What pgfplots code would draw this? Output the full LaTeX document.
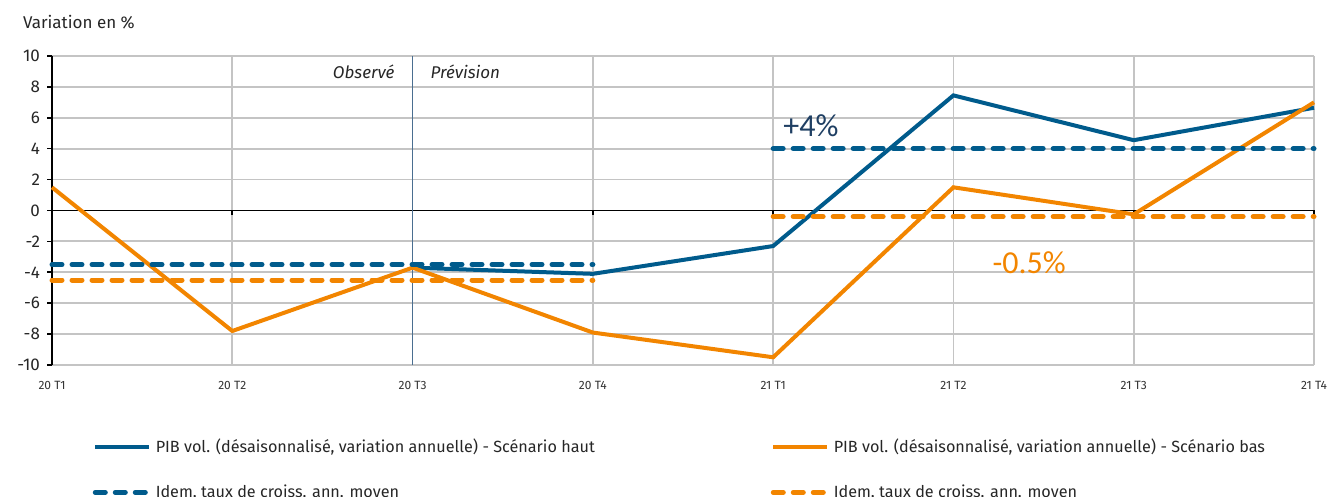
\documentclass[border=0pt]{standalone}
\usepackage{pgfplots}
\pgfplotsset{compat=1.18}
\usepackage{fontspec}
\setmainfont{Fira Sans}
\newfontfamily\calib{Carlito}

\definecolor{bleu}{HTML}{005B8C}
\definecolor{orange}{HTML}{F28500}
\definecolor{bleuf}{HTML}{1F3F63}
\definecolor{sep}{HTML}{4A6E90}
\definecolor{grille}{HTML}{C4C4C4}

\begin{document}
\begin{tikzpicture}
\useasboundingbox (0,0) rectangle (666pt,248.5pt);
\node[anchor=west, font=\fontsize{8.5}{10}\selectfont, text=black!85] at (8pt,237.5pt) {Variation en \%};
\begin{axis}[
  at={(26pt,66pt)}, anchor=south west,
  scale only axis, width=631pt, height=154.5pt,
  xmin=0, xmax=7, ymin=-10, ymax=10,
  xtick={0,...,7},
  xticklabels={20 T1,20 T2,20 T3,20 T4,21 T1,21 T2,21 T3,21 T4},
  ytick={-10,-8,...,10},
  ytick pos=left,
  tick align=outside,
  major tick length=2.5pt,
  xtick style={draw=none},
  ytick style={black, line width=0.8pt},
  axis line style={draw=none},
  grid=major,
  major grid style={grille, line width=0.9pt},
  x tick label style={font=\fontsize{6}{7}\selectfont, text=black!80, yshift=-2pt},
  y tick label style={font=\fontsize{8.5}{10}\selectfont, text=black!85},
  /pgf/number format/assume math mode=true,
  unbounded coords=jump,
  clip=false,
  legend columns=2,
  legend cell align=left,
  legend style={at={(0.032,-0.225)}, anchor=north west, draw=none, fill=none,
    font=\fontsize{8.1}{9.5}\selectfont, text=black!85,
    /tikz/column sep=0pt, /tikz/row sep=10.5pt, inner sep=0pt},
  legend image code/.code={\draw[#1] (0pt,0pt) -- (27pt,0pt);},
]
% lignes noires
\draw[black, line width=0.8pt] (axis cs:0,-10) -- (axis cs:0,10);
\draw[black, line width=0.8pt] (axis cs:0,0) -- (axis cs:7,0);
\pgfplotsinvokeforeach{1,...,7}{\draw[black, line width=0.8pt] (axis cs:#1,0) -- ([yshift=-2.5pt]axis cs:#1,0);}
\draw[sep, line width=0.7pt] (axis cs:2,-10) -- (axis cs:2,10);

\addplot[bleu, line width=2pt] coordinates {(2,-3.7) (3,-4.1) (4,-2.3) (5,7.45) (6,4.55) (7,6.65)};
\addlegendentry{\makebox[305.5pt][l]{PIB vol. (désaisonnalisé, variation annuelle) - Scénario haut}}
\addplot[orange, line width=2pt] coordinates {(0,1.5) (1,-7.8) (2,-3.7) (3,-7.9) (4,-9.5) (5,1.5) (6,-0.25) (7,7.0)};
\addlegendentry{PIB vol. (désaisonnalisé, variation annuelle) - Scénario bas}
\addplot[bleu, line width=2.5pt, line cap=round, dash pattern=on 5pt off 5pt] coordinates {(0,-3.5) (3,-3.5) (3.5,nan) (4,4) (7,4)};
\addlegendentry{\makebox[305.5pt][l]{Idem, taux de croiss. ann. moyen}}
\addplot[orange, line width=2.5pt, line cap=round, dash pattern=on 5pt off 5pt] coordinates {(0,-4.5) (3,-4.5) (3.5,nan) (4,-0.4) (7,-0.4)};
\addlegendentry{Idem, taux de croiss. ann. moyen}

\node[anchor=east, font=\itshape\fontsize{8.5}{10}\selectfont, text=black!85] at (axis cs:2,8.95) [xshift=-5.5pt] {Observé};
\node[anchor=west, font=\itshape\fontsize{8.5}{10}\selectfont, text=black!85] at (axis cs:2,8.95) [xshift=5.5pt] {Prévision};
\node[font=\calib\fontsize{16}{18}\selectfont, text=bleuf] at (axis cs:4.21,5.5) {+4\%};
\node[font=\calib\fontsize{16}{18}\selectfont, text=orange] at (axis cs:5.42,-3.35) {-0.5\%};
\end{axis}
\end{tikzpicture}
\end{document}
